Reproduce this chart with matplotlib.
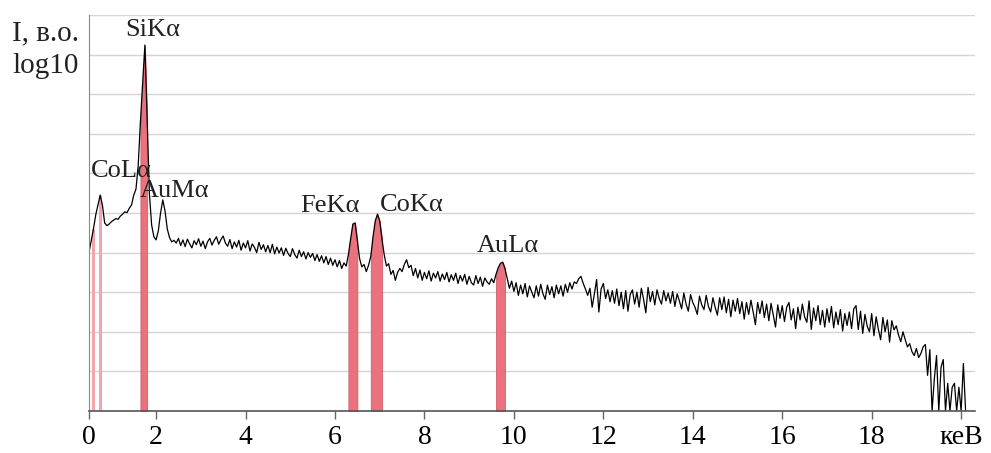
import numpy as np
import matplotlib
matplotlib.use("Agg")
import matplotlib.pyplot as plt

plt.rcParams['font.family'] = ['Liberation Serif', 'DejaVu Serif']

# Spectrum: channel grid 0.50 keV, step 0.05 keV; intensity in log10 grid units
e_start = 0.50
e_step = 0.05
intensity = [
    4.02, 4.30, 4.60, 4.95, 5.20, 5.45, 5.20, 4.75, 4.68, 4.72, 4.78, 4.82, 4.86, 4.84, 4.92, 4.97, 5.03, 5.01, 5.12, 5.20,
    5.45, 5.60, 6.20, 7.30, 8.30, 9.24, 7.40, 5.50, 4.70, 4.40, 4.32, 4.55, 5.00, 5.33, 5.05, 4.60, 4.38, 4.27, 4.31, 4.24,
    4.36, 4.18, 4.32, 4.15, 4.34, 4.22, 4.12, 4.30, 4.20, 4.35, 4.16, 4.29, 4.10, 4.27, 4.36, 4.19, 4.31, 4.40, 4.21, 4.33,
    4.42, 4.24, 4.16, 4.33, 4.10, 4.27, 4.14, 4.31, 4.06, 4.24, 4.12, 4.30, 4.04, 4.22, 4.13, 4.00, 4.26, 4.08, 4.20, 4.02,
    4.18, 4.00, 4.21, 3.97, 4.14, 3.99, 4.12, 3.93, 4.11, 3.98, 3.90, 4.10, 3.95, 3.86, 4.06, 3.90, 4.02, 3.84, 4.00, 3.88,
    3.98, 3.80, 3.95, 3.78, 3.92, 3.74, 3.90, 3.70, 3.86, 3.68, 3.82, 3.64, 3.80, 3.60, 3.74, 3.66, 3.95, 4.35, 4.72, 4.75,
    4.30, 3.85, 3.64, 3.70, 3.52, 3.68, 3.90, 4.40, 4.80, 4.97, 4.80, 4.35, 3.95, 3.66, 3.72, 3.45, 3.55, 3.30, 3.50, 3.60,
    3.52, 3.70, 3.82, 3.62, 3.68, 3.42, 3.60, 3.36, 3.56, 3.30, 3.50, 3.34, 3.54, 3.28, 3.48, 3.36, 3.52, 3.28, 3.46, 3.32,
    3.50, 3.26, 3.44, 3.30, 3.48, 3.22, 3.42, 3.28, 3.45, 3.20, 3.40, 3.24, 3.18, 3.42, 3.22, 3.38, 3.15, 3.36, 3.26, 3.20,
    3.34, 3.24, 3.45, 3.62, 3.73, 3.76, 3.60, 3.35, 3.10, 3.28, 3.02, 3.24, 2.92, 3.18, 2.96, 3.22, 2.88, 3.16, 3.00, 2.86,
    3.16, 2.90, 3.20, 2.96, 2.82, 3.18, 2.94, 3.14, 2.86, 3.18, 2.96, 3.16, 2.90, 3.20, 3.00, 3.24, 3.08, 3.26, 3.22, 3.34,
    3.40, 3.22, 3.08, 2.92, 3.10, 2.62, 2.96, 3.32, 2.50, 3.08, 3.22, 2.84, 3.06, 2.76, 3.04, 2.72, 3.08, 2.66, 3.00, 2.58,
    3.04, 2.52, 2.94, 3.06, 2.70, 3.00, 2.62, 3.10, 2.82, 2.48, 3.12, 2.76, 3.02, 2.68, 3.06, 2.84, 2.70, 3.04, 2.78, 2.98,
    2.72, 3.02, 2.64, 2.96, 2.78, 2.58, 2.98, 2.70, 2.52, 2.94, 2.74, 2.62, 2.44, 2.90, 2.68, 2.56, 2.92, 2.64, 2.50, 2.86,
    2.62, 2.42, 2.86, 2.56, 2.88, 2.48, 2.82, 2.38, 2.80, 2.52, 2.84, 2.46, 2.76, 2.32, 2.74, 2.44, 2.80, 2.50, 2.18, 2.74,
    2.46, 2.78, 2.36, 2.70, 2.28, 2.72, 2.42, 2.12, 2.68, 2.34, 2.66, 2.26, 2.62, 2.74, 2.30, 2.58, 2.08, 2.62, 2.30, 2.70,
    2.38, 2.24, 2.78, 2.06, 2.60, 2.28, 2.66, 2.18, 2.54, 2.12, 2.58, 2.24, 2.64, 2.10, 2.50, 2.18, 2.56, 2.02, 2.46, 2.16,
    2.50, 2.08, 2.58, 2.66, 2.06, 2.52, 1.96, 2.44, 2.14, 2.00, 2.46, 1.90, 2.38, 2.06, 1.80, 2.36, 2.00, 2.30, 1.74, 2.28,
    2.05, 2.15, 1.92, 1.75, 2.00, 1.80, 1.62, 1.70, 1.50, 1.40, 1.58, 1.35, 1.45, 1.62, 1.68, 0.90, 1.55, 0.00, 0.80, 1.40,
    0.00, 1.10, 1.30, 0.00, 0.70, 0.00, 0.60, 0.70, 0.00, 0.60, 0.00, 1.20, 0.00,
]
energy = np.round(e_start + e_step * np.arange(len(intensity)), 2)
intensity = np.array(intensity)

# Highlighted lines (energy windows in keV)
peak_names = ['SiKα', 'FeKα', 'CoKα', 'AuLα']
peak_windows = [(1.65, 1.80), (6.30, 6.50), (6.80, 7.05), (9.60, 9.80)]
pale_lines = [0.60, 0.75]

# Labels
label_texts = ['SiKα', 'CoLα', 'AuMα', 'FeKα', 'CoKα', 'AuLα']
label_x = [1.93, 1.22, 2.42, 5.89, 7.72, 9.87]
label_y = [9.62, 6.06, 5.56, 5.18, 5.20, 4.17]

tick_pos = [0.5, 2, 4, 6, 8, 10, 12, 14, 16, 18, 20]
tick_labels = ['0', '2', '4', '6', '8', '10', '12', '14', '16', '18', 'кеВ']

fig = plt.figure(figsize=(9.91, 4.53), dpi=100)
ax = fig.add_axes([89/991, 42/453, (975-89)/991, (411-15)/453])

ax.set_xlim(0.50, 20.31)
ax.set_ylim(0, 10)
for g in range(1, 11):
    ax.axhline(g, color='#d4d4d4', lw=1.0, zorder=0)

for (a, b) in peak_windows:
    m = (energy >= a - 1e-9) & (energy <= b + 1e-9)
    ax.fill_between(energy[m], 0, intensity[m], color='#e9727e', lw=0.6,
                    edgecolor='#d85a68', zorder=1)
for p in pale_lines:
    v = intensity[np.argmin(np.abs(energy - p))]
    ax.vlines(p, 0, v, color='#f2a5ad', lw=2.2, zorder=1)

ax.plot(energy, intensity, color='black', lw=0.9, zorder=2)

for t, x, y in zip(label_texts, label_x, label_y):
    ax.text(x, y, t, ha='center', va='center', fontsize=19, color='#222222')

ax.set_xticks(tick_pos)
ax.set_xticklabels(tick_labels, fontsize=20)
ax.set_yticks([])
ax.tick_params(axis='x', direction='out', length=6, width=1, color='#666666', pad=4)
for s in ['top', 'right']:
    ax.spines[s].set_visible(False)
ax.spines['left'].set_color('#888888')
ax.spines['bottom'].set_color('#555555')
ax.spines['bottom'].set_linewidth(1.2)

fig.text(12/991, (453-40)/453, 'I, в.о.', fontsize=21, ha='left', va='baseline', color='#222222')
fig.text(12/991, (453-73)/453, 'log10', fontsize=21, ha='left', va='baseline', color='#222222')

fig.savefig('out.png', dpi=100)
